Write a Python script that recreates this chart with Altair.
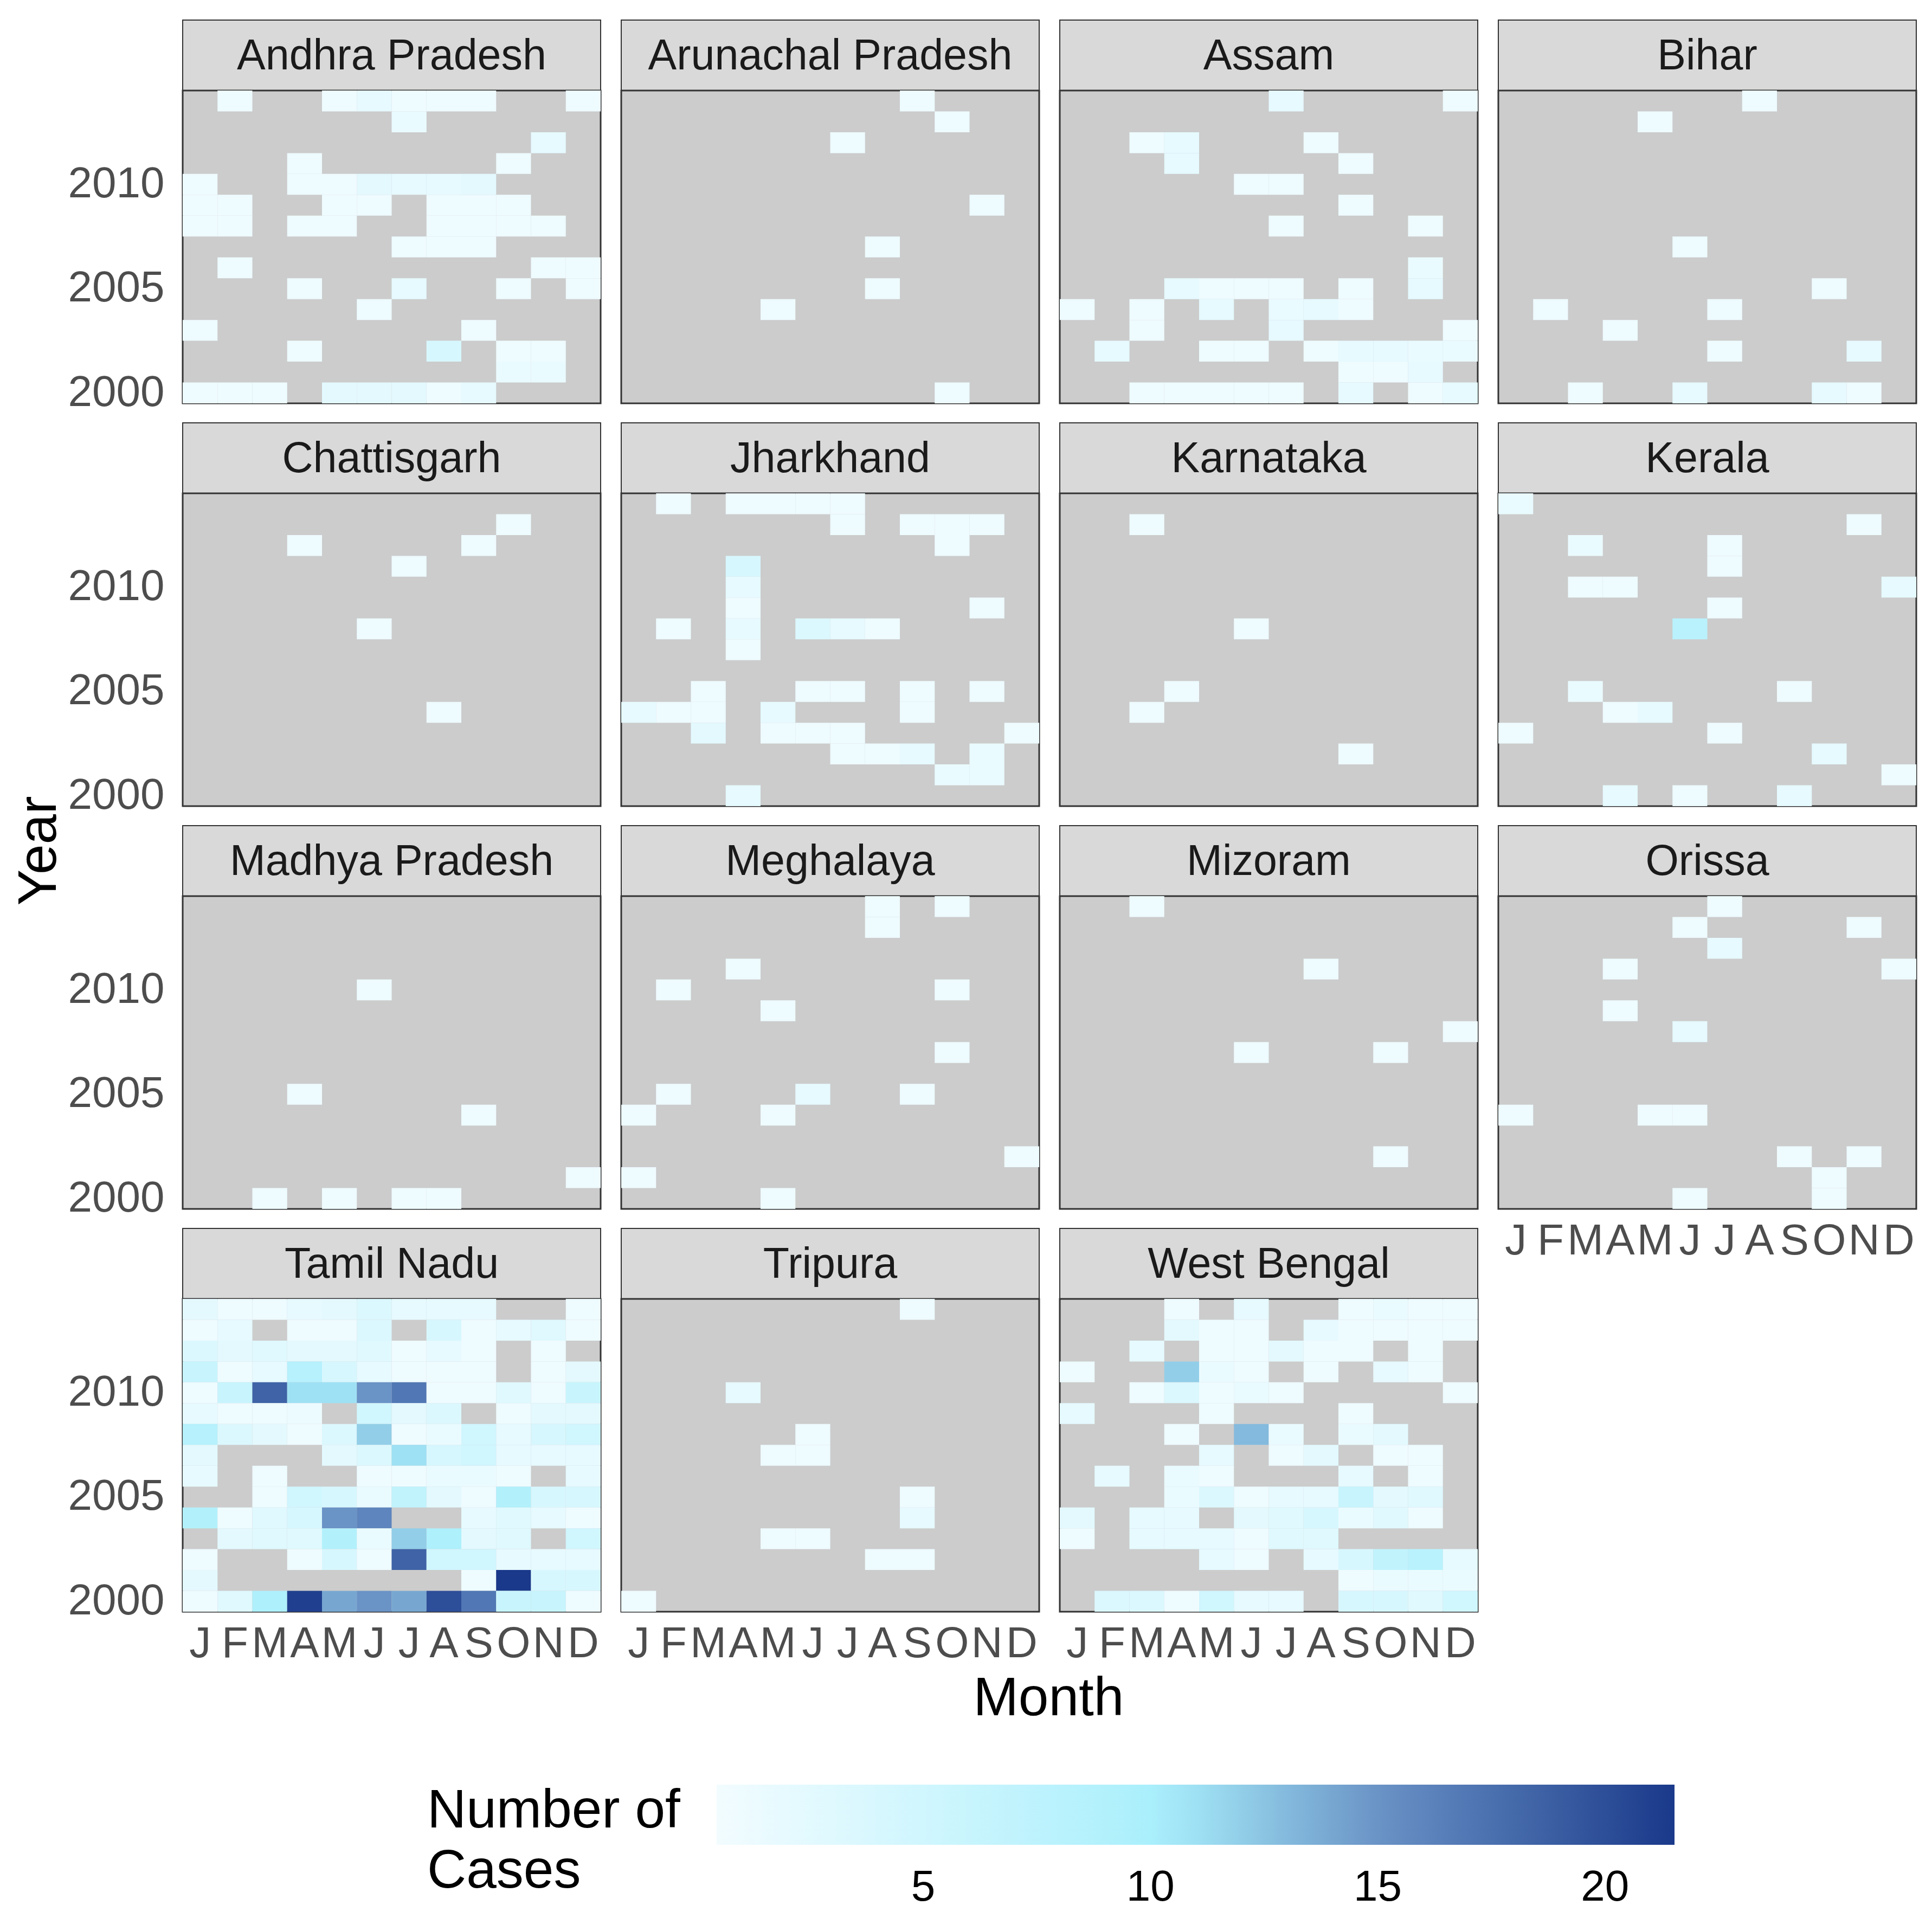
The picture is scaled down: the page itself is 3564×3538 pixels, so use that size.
import altair as alt
import pandas as pd

FONT = "Liberation Sans"

MONTH_LETTERS = ["J", "F", "M", "A", "M", "J", "J", "A", "S", "O", "N", "D"]
MONTH_NUMBERS = list(range(1, 13))
YEARS_TOP_DOWN = list(range(2014, 1999, -1))
YEAR_TICKS = [2000, 2005, 2010]
LEGEND_TICKS = [5, 10, 15, 20]
COLOR_STOPS = [0.457, 10.3, 15.0, 21.53]
COLOR_RANGE = ["#F2FCFF", "#A8EFFC", "#6A93C6", "#1A398A"]

PANEL_ROWS = [
    ["Andhra Pradesh", "Arunachal Pradesh", "Assam", "Bihar"],
    ["Chattisgarh", "Jharkhand", "Karnataka", "Kerala"],
    ["Madhya Pradesh", "Meghalaya", "Mizoram", "Orissa"],
    ["Tamil Nadu", "Tripura", "West Bengal"],
]

# Dense panels: rows are years 2014 (top) ... 2000 (bottom), columns Jan..Dec; 0 = no cases
ANDHRA_PRADESH = [
    [0, 1, 0, 0, 1, 2, 1, 1, 1, 0, 0, 1],
    [0, 0, 0, 0, 0, 0, 1.5, 0, 0, 0, 0, 0],
    [0, 0, 0, 0, 0, 0, 0, 0, 0, 0, 2, 0],
    [0, 0, 0, 1, 0, 0, 0, 0, 0, 1, 0, 0],
    [1, 0, 0, 1, 1, 2.5, 2, 2, 2.5, 0, 0, 0],
    [1, 1, 0, 0, 1, 1, 0, 1, 1, 1, 0, 0],
    [1, 1, 0, 1, 1, 0, 0, 1, 1, 1, 1, 0],
    [0, 0, 0, 0, 0, 0, 1, 1, 1, 0, 0, 0],
    [0, 1, 0, 0, 0, 0, 0, 0, 0, 0, 1, 1],
    [0, 0, 0, 1, 0, 0, 2, 0, 0, 1, 0, 1],
    [0, 0, 0, 0, 0, 1, 0, 0, 0, 0, 0, 0],
    [1, 0, 0, 0, 0, 0, 0, 0, 1, 0, 0, 0],
    [0, 0, 0, 1, 0, 0, 0, 4, 0, 1, 1, 0],
    [0, 0, 0, 0, 0, 0, 0, 0, 0, 1.5, 1.5, 0],
    [1, 1, 1, 0, 2.5, 2.5, 2.5, 1, 2, 0, 0, 0],
]
ASSAM = [
    [0, 0, 0, 0, 0, 0, 2, 0, 0, 0, 0, 1],
    [0, 0, 0, 0, 0, 0, 0, 0, 0, 0, 0, 0],
    [0, 0, 1, 2, 0, 0, 0, 1, 0, 0, 0, 0],
    [0, 0, 0, 2, 0, 0, 0, 0, 1, 0, 0, 0],
    [0, 0, 0, 0, 0, 1, 1, 0, 0, 0, 0, 0],
    [0, 0, 0, 0, 0, 0, 0, 0, 1, 0, 0, 0],
    [0, 0, 0, 0, 0, 0, 1, 0, 0, 0, 1, 0],
    [0, 0, 0, 0, 0, 0, 0, 0, 0, 0, 0, 0],
    [0, 0, 0, 0, 0, 0, 0, 0, 0, 0, 1.5, 0],
    [0, 0, 0, 2, 1, 1, 1, 0, 1, 0, 2, 0],
    [1, 0, 1, 0, 2, 0, 1.5, 2, 1, 0, 0, 0],
    [0, 0, 1, 0, 0, 0, 2, 0, 0, 0, 0, 1],
    [0, 2, 0, 0, 1, 1, 0, 1, 2, 2, 1.5, 1.5],
    [0, 0, 0, 0, 0, 0, 0, 0, 1, 1, 2, 0],
    [0, 0, 1, 1, 1, 1, 1, 0, 2, 0, 1, 2],
]
JHARKHAND = [
    [0, 1, 0, 1, 1, 1, 1, 0, 0, 0, 0, 0],
    [0, 0, 0, 0, 0, 0, 1, 0, 1, 1, 1, 0],
    [0, 0, 0, 0, 0, 0, 0, 0, 0, 1, 0, 0],
    [0, 0, 0, 4, 0, 0, 0, 0, 0, 0, 0, 0],
    [0, 0, 0, 2, 0, 0, 0, 0, 0, 0, 0, 0],
    [0, 0, 0, 1, 0, 0, 0, 0, 0, 0, 1, 0],
    [0, 1, 0, 2, 0, 3.5, 2, 1, 0, 0, 0, 0],
    [0, 0, 0, 1, 0, 0, 0, 0, 0, 0, 0, 0],
    [0, 0, 0, 0, 0, 0, 0, 0, 0, 0, 0, 0],
    [0, 0, 1, 0, 0, 1, 1, 0, 1, 0, 1, 0],
    [2, 1, 1, 0, 2, 0, 0, 0, 1, 0, 0, 0],
    [0, 0, 2.5, 0, 1, 1, 1, 0, 0, 0, 0, 1],
    [0, 0, 0, 0, 0, 0, 1, 1, 2, 0, 1.5, 0],
    [0, 0, 0, 0, 0, 0, 0, 0, 0, 1.5, 1.5, 0],
    [0, 0, 0, 2, 0, 0, 0, 0, 0, 0, 0, 0],
]
TAMIL_NADU = [
    [2.5, 1, 1, 2, 2.5, 3.5, 2, 2, 2, 0, 0, 1],
    [1, 2, 0, 1, 1, 3.5, 0, 4, 1, 2, 3, 1],
    [3.5, 2.5, 3, 2.5, 2.5, 3, 1, 2, 1, 0, 1, 0],
    [6, 1, 2, 8.5, 4, 2, 1, 1, 1, 0, 1, 2.5],
    [1, 6, 18.5, 11, 11, 15, 17, 1, 1, 3, 1, 6],
    [2, 1, 1, 1.2, 0, 5, 2.5, 3.5, 0, 1, 2.5, 2.5],
    [8.5, 3.5, 2.5, 1, 3.5, 12, 1, 1.5, 5, 2, 4, 5],
    [2.5, 0, 0, 0, 2.5, 3.5, 11, 4, 5, 2, 2, 2],
    [2, 0, 1, 0, 0, 1, 1, 1.5, 1.5, 1, 0, 2],
    [0, 0, 1, 5, 4, 1.5, 7, 2.5, 1, 9, 4, 4],
    [9, 1, 3, 4, 15, 16, 0, 0, 2, 3, 2, 1],
    [0, 2.5, 3, 3, 9, 1.5, 12, 9.5, 2.5, 3, 0, 5],
    [1, 0, 0, 1, 4, 1, 18.5, 5, 5, 2, 2, 2],
    [2.5, 0, 0, 0, 0, 0, 0, 0, 1, 21.5, 4, 4],
    [1, 3, 9.5, 21, 14, 15, 14, 20, 17, 6, 6, 1],
]
WEST_BENGAL = [
    [0, 0, 0, 1, 0, 2, 0, 0, 1, 1.5, 1, 1],
    [0, 0, 0, 2.5, 1, 1, 0, 2, 1, 1, 1, 1],
    [0, 0, 2, 0, 1, 1, 2.5, 1, 1, 0, 1, 0],
    [1, 0, 0, 12, 1.5, 1, 0, 1, 0, 2, 1, 0],
    [0, 0, 1, 3.5, 1, 1.5, 1, 0, 0, 0, 0, 1],
    [2, 0, 0, 0, 1, 0, 0, 0, 1, 0, 0, 0],
    [0, 0, 0, 1, 0, 13, 1.5, 0, 1.5, 2.5, 0, 0],
    [0, 0, 0, 0, 2, 0, 1, 2.5, 0, 1, 1, 0],
    [0, 2, 0, 1.5, 1, 0, 0, 0, 2, 0, 1, 0],
    [0, 0, 0, 1.5, 3.5, 1, 2, 2, 6, 2.5, 3, 0],
    [2.5, 0, 2, 2, 0, 2.5, 3, 4, 1.5, 3, 1, 0],
    [1, 0, 2, 2, 2, 1, 3, 3, 0, 0, 0, 0],
    [0, 0, 0, 0, 2, 1, 0, 2, 4, 7, 8, 2],
    [0, 0, 0, 0, 0, 0, 0, 0, 1, 1.5, 1.5, 1.5],
    [0, 3.5, 3.5, 1, 5, 2, 2, 0, 4, 4, 3, 5],
]

# Sparse panels: (year, month, cases)
ARUNACHAL_PRADESH = [(2014, 9, 1), (2013, 10, 1), (2012, 7, 1), (2009, 11, 1), (2007, 8, 1),
                     (2005, 8, 1), (2004, 5, 1), (2000, 10, 1)]
BIHAR = [(2014, 8, 1), (2013, 5, 1), (2007, 6, 1), (2005, 10, 1), (2004, 2, 1), (2004, 7, 1),
         (2003, 4, 1), (2002, 7, 1), (2002, 11, 2), (2000, 3, 1), (2000, 6, 2), (2000, 10, 2),
         (2000, 11, 1)]
CHATTISGARH = [(2013, 10, 1), (2012, 4, 1), (2012, 9, 1), (2011, 7, 1), (2008, 6, 1), (2004, 8, 1)]
KARNATAKA = [(2013, 3, 1), (2008, 6, 1), (2005, 4, 1), (2004, 3, 1), (2002, 9, 1)]
KERALA = [(2014, 1, 1.5), (2013, 11, 1), (2012, 3, 1.5), (2012, 7, 1), (2011, 7, 1), (2010, 3, 1),
          (2010, 4, 1), (2010, 12, 2), (2009, 7, 1), (2008, 6, 8), (2005, 3, 1.5), (2005, 9, 1),
          (2004, 4, 1), (2004, 5, 2), (2003, 1, 1), (2003, 7, 1), (2002, 10, 2), (2001, 12, 1),
          (2000, 4, 2), (2000, 6, 1), (2000, 9, 2)]
MADHYA_PRADESH = [(2010, 6, 1), (2005, 4, 1), (2004, 9, 1), (2001, 12, 1), (2000, 3, 1),
                  (2000, 5, 1), (2000, 7, 1), (2000, 8, 1)]
MEGHALAYA = [(2014, 8, 1), (2014, 10, 1), (2013, 8, 1), (2011, 4, 1), (2010, 2, 1), (2010, 10, 1),
             (2009, 5, 1), (2007, 10, 1), (2005, 2, 1), (2005, 6, 2), (2005, 9, 1), (2004, 1, 1),
             (2004, 5, 1), (2002, 12, 1), (2001, 1, 1), (2000, 5, 1)]
MIZORAM = [(2014, 3, 1), (2011, 8, 1), (2008, 12, 1), (2007, 6, 1), (2007, 10, 1), (2002, 10, 1)]
ORISSA = [(2014, 7, 1), (2013, 6, 1), (2013, 11, 1), (2012, 7, 2), (2011, 4, 1), (2011, 12, 1),
          (2009, 4, 1), (2008, 6, 2), (2004, 1, 1), (2004, 5, 1), (2004, 6, 1), (2002, 9, 1),
          (2002, 11, 1), (2001, 10, 1), (2000, 6, 1), (2000, 10, 1)]
TRIPURA = [(2014, 9, 1), (2010, 4, 2), (2008, 6, 1), (2007, 5, 1), (2007, 6, 1), (2005, 9, 1),
           (2004, 9, 2), (2003, 5, 1), (2003, 6, 1), (2002, 8, 1), (2002, 9, 1), (2000, 1, 1)]

GRIDS = {
    "Andhra Pradesh": ANDHRA_PRADESH,
    "Assam": ASSAM,
    "Jharkhand": JHARKHAND,
    "Tamil Nadu": TAMIL_NADU,
    "West Bengal": WEST_BENGAL,
}
TRIPLES = {
    "Arunachal Pradesh": ARUNACHAL_PRADESH,
    "Bihar": BIHAR,
    "Chattisgarh": CHATTISGARH,
    "Karnataka": KARNATAKA,
    "Kerala": KERALA,
    "Madhya Pradesh": MADHYA_PRADESH,
    "Meghalaya": MEGHALAYA,
    "Mizoram": MIZORAM,
    "Orissa": ORISSA,
    "Tripura": TRIPURA,
}

records = []
for state, grid in GRIDS.items():
    for year, vals in zip(YEARS_TOP_DOWN, grid):
        for month, v in zip(MONTH_NUMBERS, vals):
            if v > 0:
                records.append({"state": state, "year": year, "month": month, "cases": v})
for state, trips in TRIPLES.items():
    for year, month, v in trips:
        records.append({"state": state, "year": year, "month": month, "cases": v})
df = pd.DataFrame(records)

# layout sizes (pixels)
W = 771
H_STRIP = 130
H_HEAT = 577
H_GAP = 36
COL_GAP = 38

label_expr = "[" + ",".join("'%s'" % m for m in MONTH_LETTERS) + "][datum.value - 1]"

color = alt.Color(
    "cases:Q",
    scale=alt.Scale(domain=COLOR_STOPS, range=COLOR_RANGE, interpolate="rgb", clamp=True),
    legend=alt.Legend(
        orient="none", legendX=451, legendY=3255, direction="horizontal",
        gradientLength=1767, gradientThickness=111, gradientStrokeWidth=0,
        title=["Number of", "Cases"], titleOrient="left", titleAnchor="start",
        titleBaseline="top", titleFontSize=100,
        titleFont=FONT, titleColor="#000000", titleFontWeight="normal",
        titlePadding=67, titleLineHeight=111, titleLimit=2000,
        labelFontSize=80, labelFont=FONT, labelColor="#000000", labelOffset=40,
        values=LEGEND_TICKS, format="d",
    ),
)


def x_axis(with_title):
    kw = dict(labelExpr=label_expr, labelAngle=0, ticks=False, tickSize=0, domain=False,
              labelFontSize=80, labelFont=FONT, labelColor="#4D4D4D", labelPadding=20,
              labelOverlap=False, labelLimit=400)
    if with_title:
        kw.update(titleFontSize=100, titleFont=FONT, titleColor="#000000", titleFontWeight="normal",
                  titleX=788, titleY=160, titleAlign="center", titleBaseline="middle", titleLimit=2000)
    return alt.Axis(**kw)


def y_axis(with_title):
    kw = dict(values=YEAR_TICKS, ticks=False, tickSize=0, domain=False,
              labelFontSize=80, labelFont=FONT, labelColor="#4D4D4D", labelPadding=34,
              labelOverlap=False, labelLimit=400)
    if with_title:
        kw.update(titleFontSize=100, titleFont=FONT, titleColor="#000000", titleFontWeight="normal",
                  titleAngle=270, titleX=-265, titleY=659, titleAlign="center", titleBaseline="middle",
                  titleLimit=2000)
    return alt.Axis(**kw)


def heat(state, show_y, show_x, y_title=None, x_title=None):
    if show_x:
        xenc = alt.X("month:O", scale=alt.Scale(domain=MONTH_NUMBERS, paddingInner=0, paddingOuter=0),
                     axis=x_axis(x_title is not None), title=x_title)
    else:
        xenc = alt.X("month:O", scale=alt.Scale(domain=MONTH_NUMBERS, paddingInner=0, paddingOuter=0),
                     axis=None)
    if show_y:
        yenc = alt.Y("year:O", scale=alt.Scale(domain=YEARS_TOP_DOWN, paddingInner=0, paddingOuter=0),
                     axis=y_axis(y_title is not None), title=y_title)
    else:
        yenc = alt.Y("year:O", scale=alt.Scale(domain=YEARS_TOP_DOWN, paddingInner=0, paddingOuter=0),
                     axis=None)
    return (
        alt.Chart(df)
        .transform_filter(alt.datum.state == state)
        .mark_rect()
        .encode(x=xenc, y=yenc, color=color)
        .properties(width=W, height=H_HEAT,
                    view=alt.ViewBackground(fill="#CCCCCC", stroke="#333333", strokeWidth=3))
    )


def strip(state):
    return (
        alt.Chart(pd.DataFrame({"state": [state]}))
        .mark_text(font=FONT, fontSize=79, color="#1A1A1A", align="center", baseline="middle")
        .encode(text="state:N", x=alt.value(W / 2), y=alt.value(H_STRIP / 2 + 2))
        .properties(width=W, height=H_STRIP,
                    view=alt.ViewBackground(fill="#D9D9D9", stroke="#333333", strokeWidth=2))
    )


def blank(h):
    return (
        alt.Chart(pd.DataFrame({"a": [0]}))
        .mark_point(opacity=0)
        .encode(x=alt.value(0), y=alt.value(0))
        .properties(width=W, height=h,
                    view=alt.ViewBackground(stroke="transparent", fill="transparent"))
    )


items = []
for r, row in enumerate(PANEL_ROWS):
    last_row = r == len(PANEL_ROWS) - 1
    for c in range(4):
        items.append(strip(row[c]) if c < len(row) else blank(H_STRIP))
    for c, state in enumerate(row):
        show_x = last_row or (state == "Orissa")
        items.append(heat(
            state,
            show_y=(c == 0),
            show_x=show_x,
            y_title="Year" if state == "Chattisgarh" else None,
            x_title="Month" if state == "Tripura" else None,
        ))
    if not last_row:
        for c in range(4):
            items.append(blank(H_GAP))

chart = (
    alt.concat(*items, columns=4, spacing={"row": 0, "column": COL_GAP}, bounds="flush")
    .properties(padding={"left": 12, "top": 28, "right": 5, "bottom": 5})
    .configure(font=FONT, background="#FFFFFF")
    .configure_view(stroke="transparent")
)

chart.save("out.html", embed_options={"renderer": "svg", "actions": False})
